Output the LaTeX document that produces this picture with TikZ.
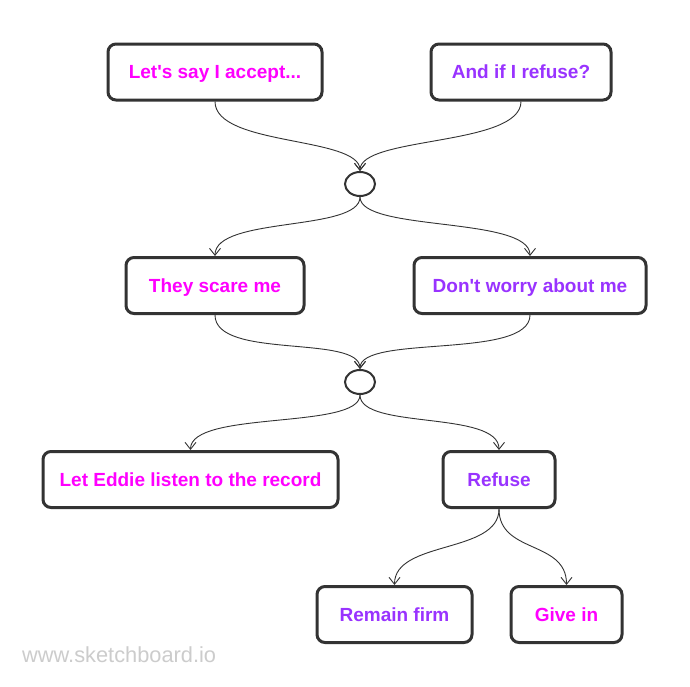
\documentclass[tikz,border=0pt]{standalone}
\usepackage{fontspec}
\setmainfont{Liberation Sans}
\usetikzlibrary{arrows.meta,shapes.geometric}
\definecolor{mag}{HTML}{FF00FF}
\definecolor{pur}{HTML}{9933FF}
\definecolor{edge}{HTML}{333333}
\definecolor{wm}{HTML}{CCCCCC}
\tikzset{
  box/.style={draw=edge, line width=3pt, rounded corners=8pt, fill=white,
    minimum height=56pt, inner sep=0pt, text height=13.6pt, text depth=0pt,
    font=\fontsize{19}{22}\selectfont\bfseries},
  junc/.style={draw=edge, line width=2pt, ellipse, minimum width=30pt, minimum height=24pt, inner sep=0pt},
  conn/.style={draw=edge, line width=0.9pt, -{Straight Barb[length=7pt,width=11pt,line width=0.9pt]}}
}
\begin{document}
\begin{tikzpicture}[x=1pt,y=-1pt]
\useasboundingbox[fill=white] (0,0) rectangle (690,686);
\node[box, minimum width=214pt, text=mag] (a) at (215,72) {Let\textquotesingle s say I accept...};
\node[box, minimum width=180pt, text=pur] (b) at (521,72) {And if I refuse?};
\node[junc] (j1) at (360,184) {};
\node[box, minimum width=178pt, text=mag] (c) at (215,285.5) {They scare me};
\node[box, minimum width=232pt, text=pur] (d) at (530,285.5) {Don\textquotesingle t worry about me};
\node[junc] (j2) at (360,382) {};
\node[box, minimum width=295pt, text=mag] (e) at (190.5,479.5) {Let Eddie listen to the record};
\node[box, minimum width=112pt, text=pur] (f) at (499,479.5) {Refuse};
\node[box, minimum width=155pt, text=pur] (g) at (394.5,614.5) {Remain firm};
\node[box, minimum width=111pt, text=mag] (h) at (566.5,614.5) {Give in};
\node[anchor=base west, inner sep=0pt, text=wm, font=\fontsize{21.8}{24}\selectfont] (wm) at (22,662) {www.sketchboard.io};
\draw[conn] (a.south) .. controls +(0,45) and +(0,-35) .. (j1.north);
\draw[conn] (b.south) .. controls +(0,45) and +(0,-35) .. (j1.north);
\draw[conn] (j1.south) .. controls +(0,35) and +(0,-40) .. (c.north);
\draw[conn] (j1.south) .. controls +(0,35) and +(0,-40) .. (d.north);
\draw[conn] (c.south) .. controls +(0,45) and +(0,-35) .. (j2.north);
\draw[conn] (d.south) .. controls +(0,45) and +(0,-35) .. (j2.north);
\draw[conn] (j2.south) .. controls +(0,35) and +(0,-40) .. (e.north);
\draw[conn] (j2.south) .. controls +(0,35) and +(0,-40) .. (f.north);
\draw[conn] (f.south) .. controls +(0,45) and +(0,-45) .. (g.north);
\draw[conn] (f.south) .. controls +(0,45) and +(0,-45) .. (h.north);
\end{tikzpicture}
\end{document}
